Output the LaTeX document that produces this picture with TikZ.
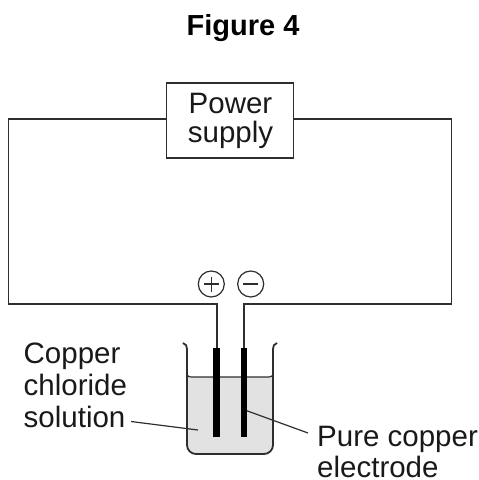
\documentclass[tikz,border=0pt]{standalone}
\usepackage{fontspec}
\setmainfont{Liberation Sans}
\definecolor{wirec}{HTML}{2E2E2E}
\definecolor{liquid}{HTML}{E2E2E2}
\tikzset{
  x=1pt,y=-1pt,
  wire/.style={draw=wirec,line width=1.8pt,line join=miter},
  thin line/.style={draw=wirec,line width=1.2pt},
  labeltext/.style={inner sep=0pt,font=\fontsize{29.5}{33}\selectfont,text=black!90},
  electrode/.style={fill=black,draw=none,minimum width=6.5pt,minimum height=89pt,inner sep=0pt},
  sign/.style={circle,draw=wirec,line width=1.2pt,minimum size=26pt,inner sep=0pt},
}
\begin{document}
\begin{tikzpicture}
\useasboundingbox (0,0) rectangle (479,480);
\node[font=\bfseries\fontsize{29}{33}\selectfont,inner sep=0pt,anchor=base] (title) at (243,35.5) {Figure 4};
% beaker liquid
\fill[liquid] (187,377) -- (273,377) -- (273,445) arc[start angle=0,end angle=90,radius=9] -- (196,454) arc[start angle=90,end angle=180,radius=9] -- cycle;
\draw[wire] (183,343) .. controls (186,344) and (187,346) .. (187,349) -- (187,445) arc[start angle=180,end angle=90,radius=9] -- (264,454) arc[start angle=90,end angle=0,radius=9] -- (273,349) .. controls (273,346) and (274,344) .. (277,343);
\draw[thin line] (187,375) .. controls (188,376) and (189,377) .. (191,377) -- (269,377) .. controls (271,377) and (272,376) .. (273,375);
% box
\node[draw=wirec,line width=1.8pt,minimum width=127pt,minimum height=75pt,inner sep=0pt] (ps) at (230,120.5) {};
\node[labeltext,anchor=base] (l1) at (230.5,113.5) {Power};
\node[labeltext,anchor=base] (l2) at (230.5,142) {supply};
% electrodes
\node[electrode,anchor=north] (e1) at (216.7,348) {};
\node[electrode,anchor=north] (e2) at (244,348) {};
% wires
\draw[wire] (ps.west |- 0,119) -- (8.5,119) -- (8.5,304) -- (216.7,304) -- (e1.north);
\draw[wire] (ps.east |- 0,119) -- (451.5,119) -- (451.5,304) -- (244,304) -- (e2.north);
% signs
\node[sign] (plus) at (211.3,284) {};
\node[sign] (minus) at (250.7,284) {};
\draw[wirec,line width=1.5pt] (plus.center) +(-7.5,0) -- +(7.5,0) (plus.center) +(0,-7.5) -- +(0,7.5);
\draw[wirec,line width=1.5pt] (minus.center) +(-7.5,0) -- +(7.5,0);
% labels
\node[labeltext,anchor=base west] (c1) at (23.5,363) {Copper};
\node[labeltext,anchor=base west] (c2) at (23.5,395) {chloride};
\node[labeltext,anchor=base west] (c3) at (23.5,427) {solution};
\node[labeltext,anchor=base west] (p1) at (317,446) {Pure copper};
\node[labeltext,anchor=base west] (p2) at (317,477) {electrode};
\coordinate (a1) at (131,421.5);
\coordinate (a2) at (198,430);
\coordinate (b1) at (246.7,410.7);
\coordinate (b2) at (308,433);
\draw[thin line] (a1) -- (a2);
\draw[thin line] (b1) -- (b2);
\end{tikzpicture}
\end{document}
